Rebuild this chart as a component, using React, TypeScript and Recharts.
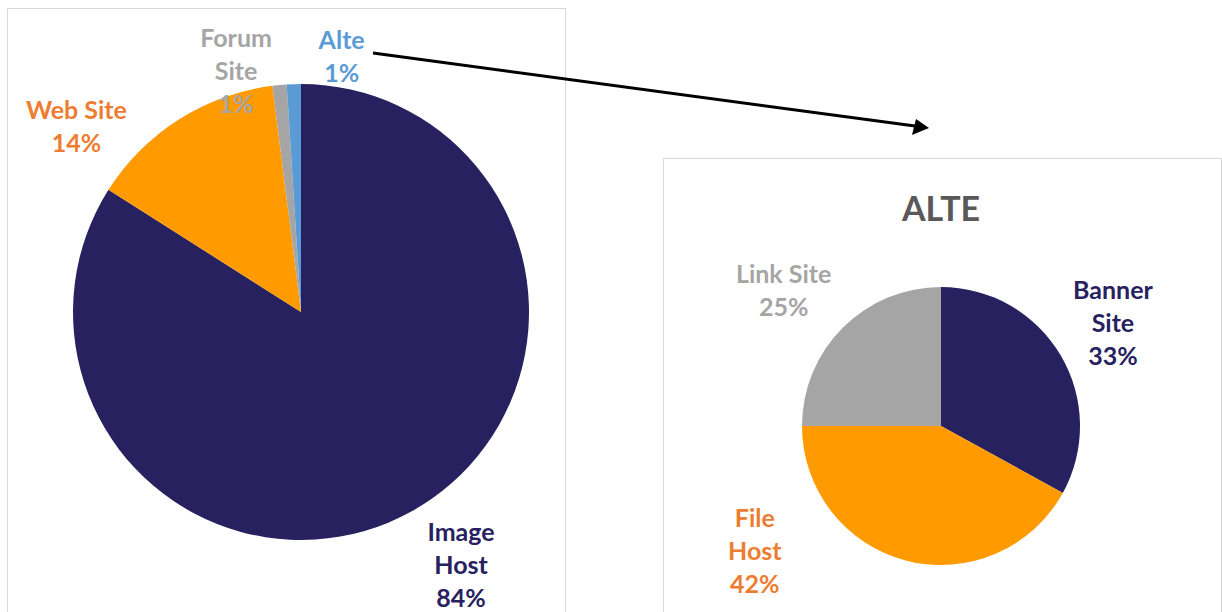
import React from "react";
import { PieChart, Pie, Cell } from "recharts";

// main breakdown (left pie)
const mainCategories = ["Image Host", "Web Site", "Forum Site", "Alte"];
const mainValues = [84, 14, 1, 1];

// breakdown of the "Alte" slice (right pie)
const alteCategories = ["Banner Site", "File Host", "Link Site"];
const alteValues = [33, 42, 25];

const mainData = mainCategories.map((name, i) => ({ name, value: mainValues[i] }));
const alteData = alteCategories.map((name, i) => ({ name, value: alteValues[i] }));

const NAVY = "#27225F";
const ORANGE = "#FF9A00";
const GRAY = "#A5A5A5";
const BLUE = "#5B9BD5";
const LABEL_ORANGE = "#ED7D31";

const mainFill = [NAVY, ORANGE, GRAY, BLUE];
const mainText = [NAVY, LABEL_ORANGE, GRAY, BLUE];
const alteFill = [NAVY, ORANGE, GRAY];
const alteText = [NAVY, LABEL_ORANGE, GRAY];

// labels that stay on one line
const singleLine = new Set(["Web Site", "Link Site", "Alte"]);

// label placement: [radius factor, angle shift from slice middle]
const mainPlacement = [
  [1.31, 3.6],
  [1.28, 17.9],
  [1.1, 9.6],
  [1.14, -10.8],
];
const altePlacement = [
  [1.446, 0.6],
  [1.61, -41.9],
  [1.5, 4],
];

const FONT = "Lato, 'Open Sans', sans-serif";
const LINE_H = 33;
const NO_MARGIN = { top: 0, right: 0, bottom: 0, left: 0 };

const makeLabel =
  (names: string[], placement: number[][], colors: string[]) => (props: any) => {
    const { cx, cy, midAngle, outerRadius, percent, index } = props;
    const name = names[index];
    const [k, shift] = placement[index];
    const a = ((midAngle + shift) * Math.PI) / 180;
    const x = cx + outerRadius * k * Math.cos(a);
    const y = cy - outerRadius * k * Math.sin(a);
    const lines = [
      ...(singleLine.has(name) ? [name] : name.split(" ")),
      `${Math.round(percent * 100)}%`,
    ];
    const top = y - ((lines.length - 1) * LINE_H) / 2;
    return (
      <text
        key={name}
        x={x}
        y={top}
        textAnchor="middle"
        dominantBaseline="central"
        fill={colors[index]}
        style={{ fontFamily: FONT, fontWeight: 700, fontSize: 25 }}
      >
        {lines.map((l, i) => (
          <tspan key={i} x={x} y={top + i * LINE_H}>
            {l}
          </tspan>
        ))}
      </text>
    );
  };

const App = () => {
  return (
    <div
      style={{
        position: "absolute",
        left: 0,
        top: 0,
        width: 1222,
        height: 612,
        overflow: "hidden",
        background: "#fff",
        fontFamily: FONT,
      }}
    >
      {/* left chart box */}
      <div
        style={{
          position: "absolute",
          left: 7,
          top: 8,
          width: 559,
          height: 640,
          border: "1px solid #D9D9D9",
          boxSizing: "border-box",
        }}
      >
        <PieChart width={557} height={610} margin={NO_MARGIN}>
          <Pie
            data={mainData}
            dataKey="value"
            nameKey="name"
            cx={293}
            cy={303}
            outerRadius={228}
            startAngle={90}
            endAngle={-270}
            stroke="none"
            labelLine={false}
            label={makeLabel(mainCategories, mainPlacement, mainText)}
            isAnimationActive={false}
          >
            {mainData.map((d, i) => (
              <Cell key={d.name} fill={mainFill[i]} />
            ))}
          </Pie>
        </PieChart>
      </div>

      {/* right chart box */}
      <div
        style={{
          position: "absolute",
          left: 663,
          top: 158,
          width: 559,
          height: 500,
          border: "1px solid #D9D9D9",
          boxSizing: "border-box",
        }}
      >
        <PieChart width={557} height={460} margin={NO_MARGIN}>
          <text
            x={277}
            y={48}
            textAnchor="middle"
            dominantBaseline="central"
            fill="#595959"
            style={{ fontFamily: FONT, fontWeight: 700, fontSize: 34 }}
          >
            ALTE
          </text>
          <Pie
            data={alteData}
            dataKey="value"
            nameKey="name"
            cx={277}
            cy={267}
            outerRadius={139}
            startAngle={90}
            endAngle={-270}
            stroke="none"
            labelLine={false}
            label={makeLabel(alteCategories, altePlacement, alteText)}
            isAnimationActive={false}
          >
            {alteData.map((d, i) => (
              <Cell key={d.name} fill={alteFill[i]} />
            ))}
          </Pie>
        </PieChart>
      </div>

      {/* arrow from the Alte slice to its breakdown */}
      <svg
        width={1222}
        height={612}
        style={{ position: "absolute", left: 0, top: 0, pointerEvents: "none" }}
      >
        <line x1={373} y1={53} x2={915} y2={126} stroke="#000" strokeWidth={3} />
        <polygon points="929,128 912,135 916,119" fill="#000" />
      </svg>
    </div>
  );
};

export default App;
